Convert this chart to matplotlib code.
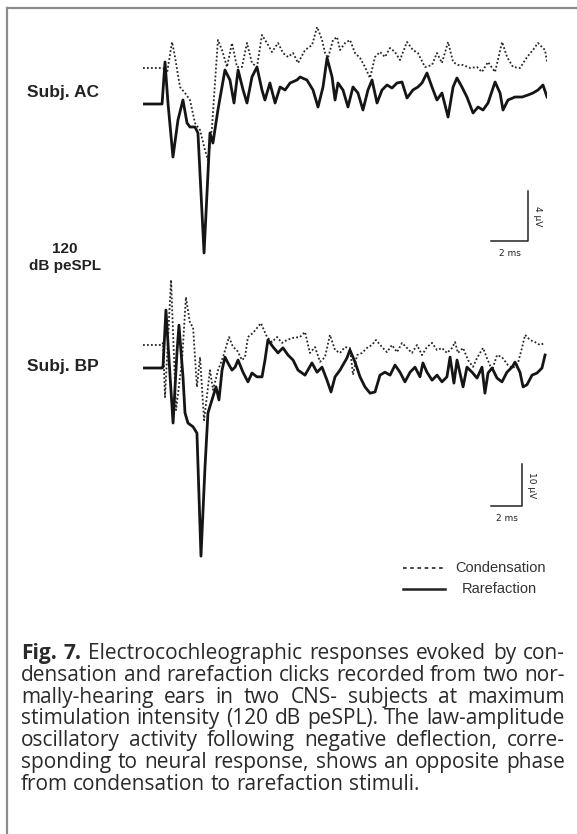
import matplotlib
matplotlib.use("Agg")
import matplotlib.pyplot as plt
from matplotlib.lines import Line2D

W, H = 577, 834

# ---- data (time in ms, amplitude in uV) ----
# Subj. AC, 120 dB peSPL
ac_rare_t = [0.00, 1.03, 1.19, 1.35, 1.62, 1.89, 2.16, 2.38, 2.54, 2.81, 2.97, 3.30, 3.62, 3.78, 4.05,
             4.43, 4.70, 4.92, 5.14, 5.41, 5.62, 5.89, 6.16, 6.43, 6.59, 6.86, 7.14, 7.41, 7.68, 7.95,
             8.32, 8.49, 8.86, 9.19, 9.46, 9.73, 9.95, 10.22, 10.38, 10.54, 10.81, 11.08, 11.35, 11.62,
             11.89, 12.16, 12.38, 12.65, 12.92, 13.19, 13.46, 13.73, 14.00, 14.27, 14.59, 14.86, 15.08,
             15.35, 15.62, 15.89, 16.16, 16.49, 16.76, 16.97, 17.24, 17.51, 17.84, 18.11, 18.38, 18.65,
             19.03, 19.30, 19.46, 19.73, 20.11, 20.49, 20.81, 21.08, 21.35, 21.62, 21.84]
ac_rare_v = [0.00, 0.00, 3.36, 0.08, -4.24, -1.28, 0.32, -1.52, -1.84, -1.84, -2.32, -11.92, -2.32, -3.12,
             -0.48, 2.72, 1.92, 0.08, 2.72, 1.12, 0.08, 2.16, 2.96, 1.12, 0.32, 1.68, 0.08, 1.36, 1.12,
             1.68, 1.92, 2.16, 1.92, 1.12, -0.24, 1.36, 3.68, 2.16, 0.32, 1.68, 1.12, -0.24, 1.36, 0.88,
             -0.48, 1.12, 1.92, 0.08, 1.12, 1.52, 1.28, 1.68, 1.76, 0.48, 1.12, 1.36, 1.68, 2.48, 1.36,
             0.32, 0.88, -1.04, 1.36, 2.08, 1.36, 0.56, -0.72, -0.24, -0.48, 0.08, 1.76, 0.88, -0.48,
             0.32, 0.56, 0.56, 0.72, 0.88, 1.12, 1.52, 0.56]
ac_cond_t = [0.00, 1.08, 1.30, 1.57, 1.73, 2.00, 2.27, 2.54, 2.81, 3.08, 3.35, 3.51, 3.73, 3.89, 4.05,
             4.27, 4.54, 4.81, 5.08, 5.35, 5.62, 5.89, 6.16, 6.43, 6.70, 6.97, 7.30, 7.57, 7.84, 8.11,
             8.38, 8.76, 9.14, 9.41, 9.68, 9.84, 10.00, 10.27, 10.49, 10.65, 10.92, 11.19, 11.46, 11.73,
             12.00, 12.27, 12.54, 12.81, 13.08, 13.35, 13.62, 13.89, 14.27, 14.59, 14.86, 15.24, 15.62,
             15.89, 16.16, 16.49, 16.76, 17.03, 17.30, 17.68, 18.05, 18.32, 18.65, 19.03, 19.41, 19.68,
             20.00, 20.38, 20.76, 21.08, 21.35, 21.73, 21.84]
ac_cond_v = [0.00, 0.00, -0.40, 2.08, 0.88, -1.52, -2.00, -2.56, -4.40, -4.96, -6.56, -7.36, -4.72, -1.20,
             2.24, 1.44, 0.08, 2.00, 0.08, 0.08, 2.00, 0.40, 0.08, 2.64, 2.00, 1.28, 2.00, 1.20, 0.88,
             1.20, 0.40, 1.44, 1.84, 3.28, 2.24, 1.20, 0.80, 2.24, 2.48, 1.44, 2.00, 2.24, 1.20, 0.80,
             0.08, -0.80, 0.88, 1.28, 0.88, 1.60, 1.28, 0.64, 2.08, 1.44, 1.20, 0.08, 0.24, 1.20, 0.40,
             2.08, 0.48, 0.24, 0.24, 0.00, 0.08, -0.32, 0.48, -0.32, 2.08, 0.88, 0.08, 0.00, 0.88, 1.44,
             2.00, 1.44, 0.48]

# Subj. BP, 120 dB peSPL
bp_rare_t = [0.00, 1.23, 1.29, 1.48, 1.68, 1.94, 2.19, 2.32, 2.58, 2.71, 2.90, 3.23, 3.48, 3.74, 4.00,
             4.19, 4.45, 4.71, 4.90, 5.10, 5.29, 5.48, 5.74, 5.94, 6.13, 6.45, 6.77, 7.03, 7.35, 7.68,
             7.87, 8.06, 8.39, 8.71, 9.03, 9.35, 9.68, 10.00, 10.45, 10.90, 11.23, 11.55, 11.87, 12.13,
             12.39, 12.71, 13.16, 13.35, 13.68, 14.00, 14.32, 14.65, 14.97, 15.29, 15.61, 15.94, 16.26,
             16.58, 16.90, 17.23, 17.55, 17.87, 18.06, 18.32, 18.65, 18.97, 19.29, 19.61, 19.81, 20.06,
             20.26, 20.45, 20.65, 20.90, 21.23, 21.55, 21.87, 22.06, 22.26, 22.52, 22.84, 23.16, 23.48,
             23.81, 24.00, 24.32, 24.52, 24.77, 25.10, 25.42, 25.74, 25.94]
bp_rare_v = [0.0, 0.0, 0.2, 13.8, 1.9, -13.1, 3.6, 10.2, -2.1, -10.7, -13.1, -14.0, -15.5, -44.8, -23.6,
             -10.7, -7.6, -4.5, -7.6, -0.5, 2.6, 1.2, -0.5, 0.2, 1.9, -1.0, -3.3, -1.2, -2.1, -2.1,
             1.9, 6.7, 5.0, 3.6, 4.8, 3.1, 1.9, -0.5, -1.7, 1.2, -1.0, 0.2, -2.9, -5.7,
             -2.1, -0.5, 2.4, 4.3, 1.4, -2.1, -4.5, -6.0, -5.7, -1.7, -1.0, -1.7, 0.7,
             -1.0, -3.3, -1.0, 0.2, -2.1, 1.2, -1.0, -2.9, -1.7, -3.3, -2.1, 2.6, -3.6,
             1.9, -1.2, -4.5, 0.2, -1.0, -2.4, 0.2, -6.0, -1.2, 0.0, -2.4, -3.3, -1.0,
             0.2, 1.4, -1.0, -4.5, -4.0, -1.7, -1.2, 0.0, 3.1]
bp_cond_t = [0.00, 1.23, 1.29, 1.42, 1.81, 2.13, 2.52, 2.77, 3.03, 3.23, 3.48, 3.68, 3.94, 4.32, 4.52,
             4.84, 5.16, 5.55, 5.81, 6.06, 6.39, 6.58, 6.77, 7.10, 7.61, 8.00, 8.32, 8.65, 8.97, 9.29,
             9.68, 10.13, 10.45, 10.77, 11.10, 11.42, 11.74, 12.06, 12.39, 12.71, 13.03, 13.35, 13.55,
             13.81, 14.13, 14.45, 14.77, 15.03, 15.42, 15.74, 16.06, 16.39, 16.71, 17.03, 17.35, 17.68,
             18.00, 18.32, 18.65, 18.97, 19.29, 19.61, 19.94, 20.13, 20.32, 20.65, 20.97, 21.29, 21.55,
             21.94, 22.19, 22.52, 22.84, 23.16, 23.55, 23.87, 24.19, 24.45, 24.65, 24.97, 25.29, 25.61,
             25.94]
bp_cond_v = [0.0, 0.0, 0.5, -12.4, 15.5, -15.5, -3.6, 11.4, 5.2, 4.3, -10.0, -2.9, -17.9, -6.0, -10.7,
             -6.0, -2.9, 1.9, -0.5, -1.2, -3.6, -2.9, 1.9, 2.9, 5.2, 1.9, 0.7, 1.9, 0.5, 1.2,
             1.7, 1.9, 3.1, -1.9, -0.5, -4.0, -2.9, 2.4, -1.2, -1.9, -0.5, -0.7, -7.1,
             -2.4, -1.9, -0.7, 0.0, 1.2, -0.5, -1.7, 0.0, -1.7, 0.5, -0.7, -1.9, 0.0,
             -2.4, -0.5, 0.5, -1.2, -0.7, -1.9, -0.7, 0.7, -1.9, -0.7, -3.6, -5.2, -3.1,
             -0.7, -3.1, -6.0, -2.4, -2.9, -4.8, -5.5, -4.3, -0.7, 2.4, 1.2, 0.7, 0.0,
             0.5]

caption_lines = [
    "Fig. 7. Electrocochleographic responses evoked by con-",
    "densation and rarefaction clicks recorded from two nor-",
    "mally-hearing ears in two CNS- subjects at maximum",
    "stimulation intensity (120 dB peSPL). The law-amplitude",
    "oscillatory activity following negative deflection, corre-",
    "sponding to neural response, shows an opposite phase",
    "from condensation to rarefaction stimuli.",
]


def px_box(x0, y0, x1, y1):
    # pixel box (from top-left) -> figure fraction rect
    return [x0 / W, 1 - y1 / H, (x1 - x0) / W, (y1 - y0) / H]


fig = plt.figure(figsize=(W / 100, H / 100), dpi=100)
fig.patch.set_facecolor("white")

# frame of the figure box
grey = "#8c8c8c"
fig.add_artist(Line2D([7 / W, 7 / W], [0, 1 - 8 / H], transform=fig.transFigure, color=grey, lw=1.6))
fig.add_artist(Line2D([7 / W, 1], [1 - 8 / H, 1 - 8 / H], transform=fig.transFigure, color=grey, lw=1.6))

solid_kw = dict(color="#151515", lw=2.0, solid_joinstyle="round")
dot_kw = dict(color="#262626", lw=1.3, linestyle=(0, (1.0, 1.2)))

# panel 1 : 18.5 px per ms, 12.5 px per uV, baseline at y=104 px
ax1 = fig.add_axes(px_box(143, 10, 547, 270))
ax1.set_xlim(0, 404 / 18.5)
ax1.set_ylim((104 - 270) / 12.5, (104 - 10) / 12.5)
ax1.axis("off")
ac_off = (104 - 68) / 12.5
ax1.plot(ac_cond_t, [v + ac_off for v in ac_cond_v], **dot_kw)
ax1.plot(ac_rare_t, ac_rare_v, **solid_kw)
# scale bar 2 ms / 4 uV
bx, by = (528 - 143) / 18.5, (104 - 241) / 12.5
ax1.plot([bx - 2, bx, bx], [by, by, by + 4], color="#222222", lw=1.1, clip_on=False)
ax1.text(bx - 1, by - 0.6, "2 ms", ha="center", va="top", fontsize=6.5, color="#222222")
ax1.text(bx + 0.25, by + 2, "4 µV", ha="left", va="center", rotation=270, fontsize=6.5, color="#222222")

# panel 2 : 15.5 px per ms, 4.2 px per uV, baseline at y=368 px
ax2 = fig.add_axes(px_box(143, 275, 547, 565))
ax2.set_xlim(0, 404 / 15.5)
ax2.set_ylim((368 - 565) / 4.2, (368 - 275) / 4.2)
ax2.axis("off")
bp_off = (368 - 345) / 4.2
ax2.plot(bp_cond_t, [v + bp_off for v in bp_cond_v], **dot_kw)
ax2.plot(bp_rare_t, bp_rare_v, **solid_kw)
bx, by = (522 - 143) / 15.5, (368 - 506) / 4.2
ax2.plot([bx - 2, bx, bx], [by, by, by + 10], color="#222222", lw=1.1, clip_on=False)
ax2.text(bx - 1, by - 1.8, "2 ms", ha="center", va="top", fontsize=6.5, color="#222222")
ax2.text(bx + 0.3, by + 5, "10 µV", ha="left", va="center", rotation=270, fontsize=6.5, color="#222222")

# left labels
lab = dict(fontweight="bold", family="Liberation Sans", color="#222222", va="center")
fig.text(27 / W, 1 - 92 / H, "Subj. AC", ha="left", fontsize=12.5, **lab)
fig.text(65 / W, 1 - 249 / H, "120", ha="center", fontsize=11, **lab)
fig.text(65 / W, 1 - 266 / H, "dB peSPL", ha="center", fontsize=11, **lab)
fig.text(27 / W, 1 - 367 / H, "Subj. BP", ha="left", fontsize=12.5, **lab)

# legend
fig.add_artist(Line2D([403 / W, 445 / W], [1 - 568 / H] * 2, transform=fig.transFigure,
                      color="#333333", lw=1.3, linestyle=(0, (2, 2))))
fig.add_artist(Line2D([403 / W, 445 / W], [1 - 589 / H] * 2, transform=fig.transFigure,
                      color="#222222", lw=1.8))
leg = dict(fontsize=10.5, family="Liberation Sans", color="#333333", va="center", ha="center")
fig.text(500 / W, 1 - 568 / H, "Condensation", **leg)
fig.text(499 / W, 1 - 589 / H, "Rarefaction", **leg)

# caption, justified between left_px and right_px
fig.canvas.draw()
rend = fig.canvas.get_renderer()
left_px, right_px = 21, 565
base0, step = 659, 21.8


def text_w(s, weight, size):
    t = fig.text(0, 0, s, fontweight=weight, fontsize=size, family="Open Sans")
    w = t.get_window_extent(renderer=rend).width
    t.remove()
    return w


def layout(size):
    sw = text_w("a b", "normal", size) - text_w("ab", "normal", size)
    rows = []
    min_ratio = 10
    for i, line in enumerate(caption_lines):
        words = line.split(" ")
        weights = ["bold" if (i == 0 and k < 2) else "normal" for k in range(len(words))]
        widths = [text_w(w, wt, size) for w, wt in zip(words, weights)]
        if i < len(caption_lines) - 1:
            gap = (right_px - left_px - sum(widths)) / (len(words) - 1)
            min_ratio = min(min_ratio, gap / sw)
        else:
            gap = sw
        rows.append((words, weights, widths, gap))
    return rows, min_ratio


size = 15.0
rows, ratio = layout(size)
while ratio < 1.0 and size > 10:
    size -= 0.25
    rows, ratio = layout(size)

for i, (words, weights, widths, gap) in enumerate(rows):
    x = left_px
    y = 1 - (base0 + i * step) / H
    for w, wt, ww in zip(words, weights, widths):
        fig.text(x / W, y, w, fontweight=wt, fontsize=size, family="Open Sans",
                 color="#2a2a2a", va="baseline", ha="left")
        x += ww + gap

fig.savefig("out.png", dpi=100)
